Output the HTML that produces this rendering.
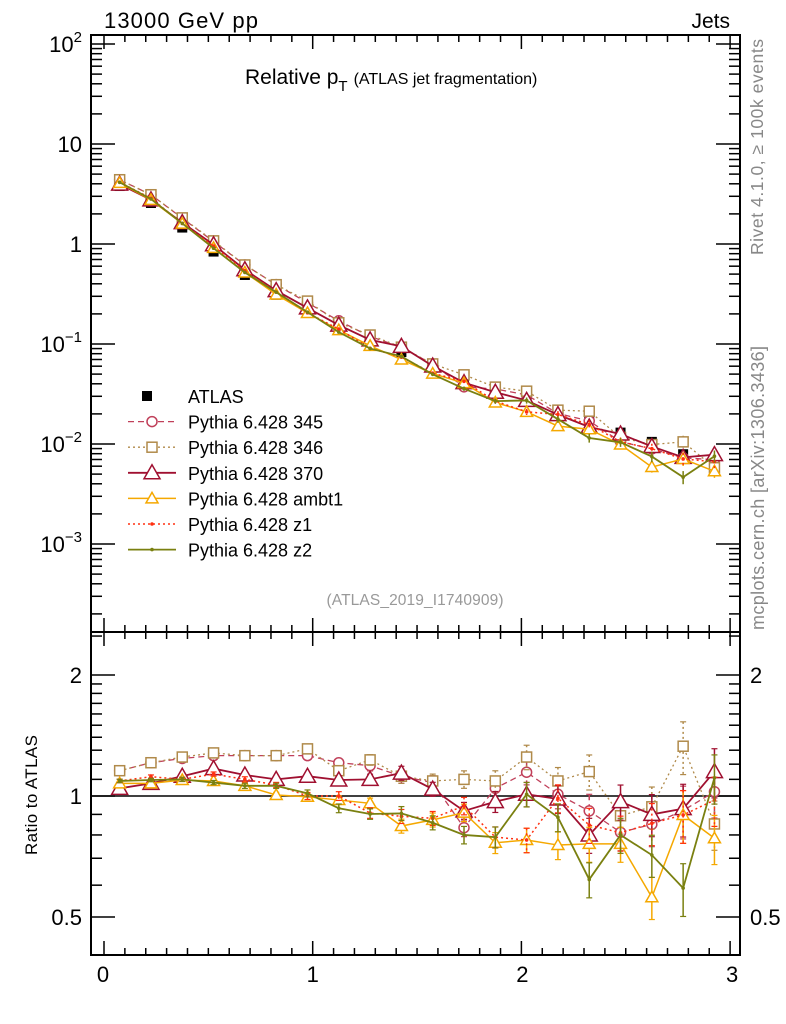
<!DOCTYPE html>
<html><head><meta charset="utf-8"><style>
body{margin:0;background:#fff}
svg{display:block}
text{font-family:"Liberation Sans",Arial,sans-serif}
</style></head><body>
<svg id="plot" width="786" height="1024" xmlns="http://www.w3.org/2000/svg">
<text x="104" y="28" font-size="22" textLength="154">13000 GeV pp</text>
<text x="730" y="28" font-size="21" text-anchor="end">Jets</text>
<text x="245" y="84" font-size="21">Relative p<tspan font-size="15" dy="7">T</tspan><tspan font-size="16" dy="-7" dx="6">(ATLAS jet fragmentation)</tspan></text>
<text x="415" y="605" font-size="15.5" fill="#999" text-anchor="middle" textLength="177">(ATLAS_2019_I1740909)</text>
<text transform="translate(763,147) rotate(-90)" font-size="17.5" fill="#888" text-anchor="middle" textLength="216">Rivet 4.1.0, ≥ 100k events</text>
<text transform="translate(764,488) rotate(-90)" font-size="18" fill="#888" text-anchor="middle" textLength="284">mcplots.cern.ch [arXiv:1306.3436]</text>
<text transform="translate(37,795) rotate(-90)" font-size="17" text-anchor="middle" textLength="120">Ratio to ATLAS</text>
<g id="g"></g>
</svg>
<script>
const xCenters=[0.075,0.225,0.375,0.525,0.675,0.825,0.975,1.125,1.275,1.425,1.575,1.725,1.875,2.025,2.175,2.325,2.475,2.625,2.775,2.925];
const atlas=[3.8,2.57,1.46,0.84,0.49,0.311,0.205,0.141,0.1,0.083,0.058,0.0447,0.034,0.027,0.02,0.0185,0.013,0.0105,0.0079,0.0068];
const r345=[1.156,1.21,1.24,1.26,1.26,1.26,1.26,1.21,1.19,1.12,1.08,0.834,1.045,1.146,1.01,0.918,0.812,0.85,0.92,1.025];
const r346=[1.156,1.21,1.25,1.28,1.26,1.26,1.31,1.156,1.23,1.12,1.09,1.10,1.09,1.25,1.09,1.15,0.893,0.94,1.33,0.852];
const r370=[1.045,1.075,1.12,1.17,1.128,1.10,1.12,1.096,1.10,1.14,1.04,0.918,0.968,1.01,0.983,0.8,0.968,0.9,0.93,1.15];
const rAmbt1=[1.075,1.075,1.096,1.09,1.06,1.006,0.996,0.977,0.959,0.842,0.872,0.909,0.765,0.777,0.755,0.76,0.76,0.56,0.897,0.785];
const rZ1=[1.09,1.117,1.10,1.134,1.10,1.065,1.0,1.0,0.907,0.89,0.88,0.945,0.79,0.777,0.987,0.847,0.81,0.855,0.897,0.977];
const rZ2=[1.09,1.096,1.10,1.08,1.06,1.06,1.015,0.932,0.902,0.905,0.858,0.8,0.79,1.01,0.885,0.62,0.80,0.713,0.59,1.11];
const relErr=[0.01,0.01,0.012,0.012,0.015,0.015,0.02,0.025,0.03,0.04,0.04,0.05,0.06,0.07,0.08,0.1,0.1,0.12,0.15,0.14];
const mainTicks=[2,1,0,-1,-2,-3];
const ratioTicks=[0.5,1,2];
const xTicks=[0,1,2,3];

const L=91,R=740,T=35,M=632,B=955;
const X=v=>104+v*208.7;
const Ym=v=>244-100*Math.log10(v);
const Yr=v=>796-121*Math.log2(v);
const g=document.getElementById('g');
const NS='http://www.w3.org/2000/svg';
function el(tag,a,parent){const e=document.createElementNS(NS,tag);for(const k in a)e.setAttribute(k,a[k]);(parent||g).appendChild(e);return e;}

let f1=el('rect',{x:L,y:T,width:R-L,height:M-T,fill:'none',stroke:'#000','stroke-width':2});


let f2=el('rect',{x:L,y:M,width:R-L,height:B-M,fill:'none',stroke:'#000','stroke-width':2});



for(let i=0;i<=30;i++){const v=i/10;const x=X(v);const len=(i%10==0)?14:7;
 for(const [y0,d] of [[T,1],[M,-1],[M,1],[B,-1]]){el('line',{x1:x,x2:x,y1:y0,y2:y0+d*len,stroke:'#000','stroke-width':1.5});}
}
xTicks.forEach(v=>{const t=el('text',{x:X(v)-1+v,y:B+27,'font-size':22,'text-anchor':'middle'});t.textContent=v;
 
 });

for(let e=-4;e<=2;e++){for(let m=1;m<=9;m++){const v=m*Math.pow(10,e);const y=Ym(v);if(y<T||y>M)continue;
 const len=m==1?24:11;
 el('line',{x1:L,x2:L+len,y1:y,y2:y,stroke:'#000','stroke-width':1.5});
 el('line',{x1:R,x2:R-len,y1:y,y2:y,stroke:'#000','stroke-width':1.5});}}
mainTicks.forEach(e=>{const y=Ym(Math.pow(10,e));const t=el('text',{x:82,y:y+8,'font-size':22,'text-anchor':'end'});
 if(e==1)t.textContent='10';else if(e==0)t.textContent='1';
 else{t.textContent='10';const s=el('tspan',{'font-size':15,dy:-10},t);s.textContent=e==2?'2':('\u2212'+(-e));}
 
 });

const rt=[];for(let v=0.4;v<2.0001;v+=0.1)rt.push(+v.toFixed(2));[2.5].forEach(v=>rt.push(v));
rt.forEach(v=>{const y=Yr(v);if(y<M||y>B)return;const len=ratioTicks.includes(v)?24:11;
 el('line',{x1:L,x2:L+len,y1:y,y2:y,stroke:'#000','stroke-width':1.5});
 el('line',{x1:R,x2:R-len,y1:y,y2:y,stroke:'#000','stroke-width':1.5});});
ratioTicks.forEach(v=>{const y=Yr(v);
 const t=el('text',{x:82,y:y+8,'font-size':22,'text-anchor':'end'});t.textContent=v==1?'1':v;
 
 
 if(v!=1){const t2=el('text',{x:750,y:y+8,'font-size':22});t2.textContent=v;
 
 }});
el('line',{x1:L,x2:R,y1:Yr(1),y2:Yr(1),stroke:'#000','stroke-width':1.5});

const series=[
 {name:'Pythia 6.428 345',r:r345,c:'#c0405a',dash:'6,4',mk:'circle',sz:5,w:1.3},
 {name:'Pythia 6.428 346',r:r346,c:'#b08a4a',dash:'2,3',mk:'square',sz:5,w:1.3},
 {name:'Pythia 6.428 370',r:r370,c:'#a01030',dash:'',mk:'tri',sz:8,w:1.8},
 {name:'Pythia 6.428 ambt1',r:rAmbt1,c:'#f5a800',dash:'',mk:'tri',sz:6,w:1.5},
 {name:'Pythia 6.428 z1',r:rZ1,c:'#ff3010',dash:'2,3',mk:'dot',sz:1.8,w:1.5},
 {name:'Pythia 6.428 z2',r:rZ2,c:'#7a8010',dash:'',mk:'dot',sz:1.8,w:1.8}];

function marker(mk,x,y,s,c,w,grp){
 if(mk=='circle')el('circle',{cx:x,cy:y,r:s,fill:'#fff',stroke:c,'stroke-width':w},grp);
 else if(mk=='square')el('rect',{x:x-s,y:y-s,width:2*s,height:2*s,fill:'#fff',stroke:c,'stroke-width':w},grp);
 else if(mk=='tri')el('polygon',{points:`${x},${y-s} ${x-s},${y+s*0.75} ${x+s},${y+s*0.75}`,fill:'#fff',stroke:c,'stroke-width':w},grp);
 else el('circle',{cx:x,cy:y,r:s,fill:c},grp);
}

const ag=el('g',{});


atlas.forEach((v,i)=>{const x=X(xCenters[i]),y=Ym(v);el('rect',{x:x-5,y:y-5,width:10,height:10,fill:'#000'},ag);});

series.forEach((s,si)=>{
 const gm=el('g',{});
 
 
 const gr=el('g',{});
 
 
 const pm=[],pr=[];
 s.r.forEach((r,i)=>{pm.push(X(xCenters[i])+','+Ym(r*atlas[i]));pr.push(X(xCenters[i])+','+Yr(r));});
 el('polyline',{points:pm.join(' '),fill:'none',stroke:s.c,'stroke-width':s.w,'stroke-dasharray':s.dash},gm);
 el('polyline',{points:pr.join(' '),fill:'none',stroke:s.c,'stroke-width':s.w,'stroke-dasharray':s.dash},gr);
 s.r.forEach((r,i)=>{const x=X(xCenters[i]);const e=relErr[i];
  el('line',{x1:x,x2:x,y1:Ym(r*atlas[i]*(1+e)),y2:Ym(r*atlas[i]*(1-e)),stroke:s.c,'stroke-width':1.5,'stroke-dasharray':s.dash},gm);
  el('line',{x1:x,x2:x,y1:Yr(r*(1+e)),y2:Yr(r*(1-e)),stroke:s.c,'stroke-width':1.5,'stroke-dasharray':s.dash},gr);
  [1+e,1-e].forEach(f=>el('line',{x1:x-3,x2:x+3,y1:Yr(r*f),y2:Yr(r*f),stroke:s.c,'stroke-width':1.2},gr));
  marker(s.mk,x,Ym(r*atlas[i]),s.sz,s.c,1.5,gm);
  marker(s.mk,x,Yr(r),s.sz,s.c,1.5,gr);
 });
});

const lg=el('g',{});


const ly0=396,ldy=25.6;
el('rect',{x:147-5,y:ly0-5,width:10,height:10,fill:'#000'},lg);
let lt=el('text',{x:188,y:ly0+7,'font-size':18},lg);lt.textContent='ATLAS';


series.forEach((s,i)=>{const y=ly0+ldy*(i+1);
 el('line',{x1:128,x2:176,y1:y,y2:y,stroke:s.c,'stroke-width':s.w,'stroke-dasharray':s.dash},lg);
 marker(s.mk,152,y,s.sz,s.c,1.5,lg);
 const t=el('text',{x:188,y:y+7,'font-size':18},lg);t.textContent=s.name;
 
 });
</script>
</body></html>
